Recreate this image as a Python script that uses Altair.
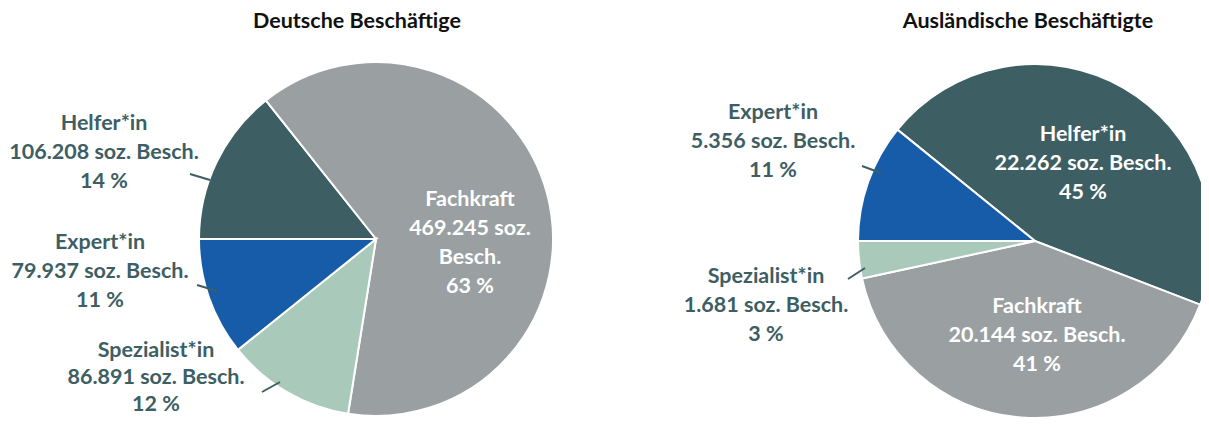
import math
import altair as alt
import pandas as pd

# ---- data ----
kategorien = ["Helfer*in", "Fachkraft", "Spezialist*in", "Expert*in"]
deutsche = [106208, 469245, 86891, 79937]
auslaendische = [22262, 20144, 1681, 5356]
# clockwise order of slices starting at 9 o'clock
reihenfolge_de = [0, 1, 2, 3]
reihenfolge_aus = [1, 2, 3, 0]
farben = ["#3d5e63", "#9a9fa1", "#a9c9ba", "#175ca8"]
titel = ["Deutsche Beschäftige", "Ausländische Beschäftigte"]


def fmt(v):
    return f"{v:,}".replace(",", ".")


def frame(werte, reihenfolge, umbruch=None):
    total = sum(werte)
    rows = []
    for k, w, r in zip(kategorien, werte, reihenfolge):
        pct = round(w / total * 100)
        if umbruch == k:
            label = f"{k}\n{fmt(w)} soz.\nBesch.\n{pct} %"
        else:
            label = f"{k}\n{fmt(w)} soz. Besch.\n{pct} %"
        rows.append({"kategorie": k, "wert": w, "rang": r, "label": label})
    return pd.DataFrame(rows)


df_de = frame(deutsche, reihenfolge_de, umbruch="Fachkraft")
df_aus = frame(auslaendische, reihenfolge_aus)

FONT = "Lato"
DARK = "#3d5e63"
R = 177
start = 1.5 * math.pi
color = alt.Color("kategorie:N", scale=alt.Scale(domain=kategorien, range=farben), legend=None)


def pie(df, cx, cy):
    return alt.Chart(df).mark_arc(radius=R, stroke="white", strokeWidth=2).encode(
        theta=alt.Theta("wert:Q", stack=True, scale=alt.Scale(range=[start, start + 2 * math.pi])),
        color=color,
        order=alt.Order("rang:Q"),
        x=alt.value(cx),
        y=alt.value(cy),
    )


def label(df, kat, x, y, col, lh=29):
    return alt.Chart(df).transform_filter(alt.datum.kategorie == kat).mark_text(
        font=FONT, fontWeight="bold", fontSize=21.5, lineBreak="\n", lineHeight=lh,
        align="center", baseline="middle", color=col,
    ).encode(text="label:N", x=alt.value(x), y=alt.value(y))


def leader(x1, y1, x2, y2):
    return alt.Chart(pd.DataFrame({"a": [0]})).mark_rule(color=DARK, strokeWidth=2).encode(
        x=alt.value(x1), y=alt.value(y1), x2=alt.value(x2), y2=alt.value(y2)
    )


def title(t, x):
    return alt.Chart(pd.DataFrame({"t": [t]})).mark_text(
        font=FONT, fontWeight="bold", fontSize=21.5, color="#111111", align="center", baseline="middle"
    ).encode(text="t:N", x=alt.value(x), y=alt.value(14))


layers = [
    pie(df_de, 368, 231),
    pie(df_aus, 1027, 233),
    label(df_de, "Helfer*in", 96, 116, DARK),
    label(df_de, "Expert*in", 92, 235, DARK),
    label(df_de, "Spezialist*in", 148, 343, DARK, lh=27),
    label(df_de, "Fachkraft", 462, 192, "white"),
    label(df_aus, "Expert*in", 765, 105, DARK),
    label(df_aus, "Spezialist*in", 758, 269, DARK),
    label(df_aus, "Helfer*in", 1075, 127, "white"),
    label(df_aus, "Fachkraft", 1029, 299, "white"),
    leader(182, 166, 202, 172),
    leader(189, 277, 209, 283),
    leader(254, 384, 272, 374),
    leader(854, 158, 873, 165),
    leader(840, 271, 857, 260),
    title(titel[0], 349),
    title(titel[1], 1020),
]

chart = alt.layer(*layers).resolve_scale(theta="independent").properties(
    width=1193, height=412, padding=0, autosize=alt.AutoSizeParams(type="none")
).configure_view(stroke=None)

chart.save("out.html", embed_options={"renderer": "svg", "actions": False})
